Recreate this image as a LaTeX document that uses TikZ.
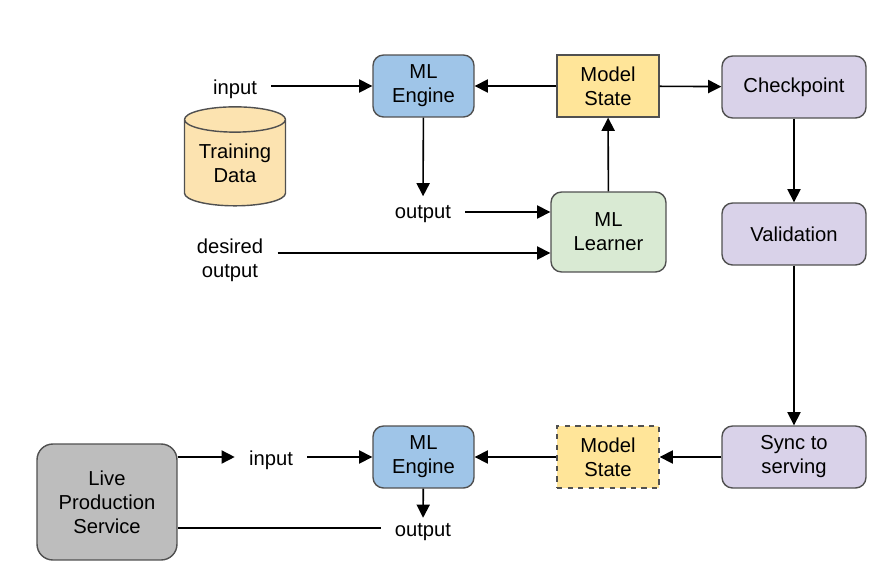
\documentclass[tikz,border=0pt]{standalone}
\usepackage{fontspec}
\setmainfont{Liberation Sans}
\usetikzlibrary{arrows.meta, positioning, shapes.geometric}

\definecolor{engblue}{HTML}{9FC5E8}
\definecolor{stateyel}{HTML}{FFE599}
\definecolor{ckpurple}{HTML}{D9D2E9}
\definecolor{lrngreen}{HTML}{D9EAD3}
\definecolor{livegray}{HTML}{BDBDBD}
\definecolor{datayel}{HTML}{FCE3B0}
\definecolor{edgegray}{HTML}{505050}

\begin{document}
\begin{tikzpicture}[x=0.02cm, y=-0.02cm,
    font=\fontsize{11.5}{13.7}\selectfont,
    box/.style={draw=edgegray, line width=0.8pt, align=center, inner sep=0pt},
    rbox/.style={box, rounded corners=6pt},
    lbl/.style={align=center, inner xsep=8pt, inner ysep=5pt},
    arr/.style={-{Triangle[length=7.5pt,width=7.5pt]}, line width=0.9pt},
    ln/.style={line width=0.9pt}]
    \useasboundingbox (0,0) rectangle (887,575);

    % Training pipeline - top row
    \node[lbl] (inTrain) at (235,89) {input};
    \node[rbox, fill=engblue, minimum width=2.02cm, minimum height=1.24cm] (engTrain) at (423.5,86) {ML\\Engine};
    \node[box, fill=stateyel, minimum width=2.04cm, minimum height=1.24cm] (stateTrain) at (608,86) {Model\\State};
    \node[rbox, fill=ckpurple, minimum width=2.88cm, minimum height=1.24cm] (ckpt) at (794,87) {Checkpoint};

    % Training data store
    \node[cylinder, shape border rotate=90, aspect=0.35, draw=edgegray, line width=0.8pt,
          fill=datayel, minimum width=2.02cm, minimum height=1.98cm, align=center, inner sep=0pt] (data) at (235,163) {Training\\Data};

    % Learner
    \node[lbl] (outTrain) at (423,214) {output};
    \node[lbl] (desired) at (230,260) {desired\\output};
    \node[rbox, fill=lrngreen, minimum width=2.3cm, minimum height=1.6cm] (learner) at (608.5,232) {ML\\Learner};

    % Release path - right column
    \node[rbox, fill=ckpurple, minimum width=2.88cm, minimum height=1.24cm] (valid) at (794,234) {Validation};
    \node[rbox, fill=ckpurple, minimum width=2.88cm, minimum height=1.24cm] (sync) at (794,457) {Sync to\\serving};

    % Serving - bottom row
    \node[rbox, fill=livegray, minimum width=2.8cm, minimum height=2.32cm, rounded corners=9pt] (live) at (107,502) {Live\\Production\\Service};
    \node[lbl] (inServe) at (271,460) {input};
    \node[rbox, fill=engblue, minimum width=2.02cm, minimum height=1.24cm] (engServe) at (423.5,457) {ML\\Engine};
    \node[box, fill=stateyel, dashed, minimum width=2.04cm, minimum height=1.24cm] (stateServe) at (608,457) {Model\\State};
    \node[lbl, inner ysep=3pt] (outServe) at (423,532) {output};

    % Connectors - training
    \draw[arr] (inTrain.east |- engTrain) -- (engTrain);
    \draw[arr] (stateTrain) -- (engTrain);
    \draw[arr] (stateTrain) -- (ckpt);
    \draw[arr] (engTrain) -- (outTrain);
    \draw[arr] (outTrain.east |- 0,212) -- (learner.west |- 0,212);
    \draw[arr] (desired.east |- 0,253) -- (learner.west |- 0,253);
    \draw[arr] (learner) -- (stateTrain);
    \draw[arr] (ckpt) -- (valid);
    \draw[arr] (valid) -- (sync);

    % Connectors - serving
    \draw[arr] (sync) -- (stateServe);
    \draw[arr] (stateServe) -- (engServe);
    \draw[arr] (live.east |- engServe) -- (inServe.west |- engServe);
    \draw[arr] (inServe.east |- engServe) -- (engServe);
    \draw[arr] (engServe) -- (outServe);
    \draw[ln] (outServe.west |- 0,528) -- (live.east |- 0,528);
\end{tikzpicture}
\end{document}
